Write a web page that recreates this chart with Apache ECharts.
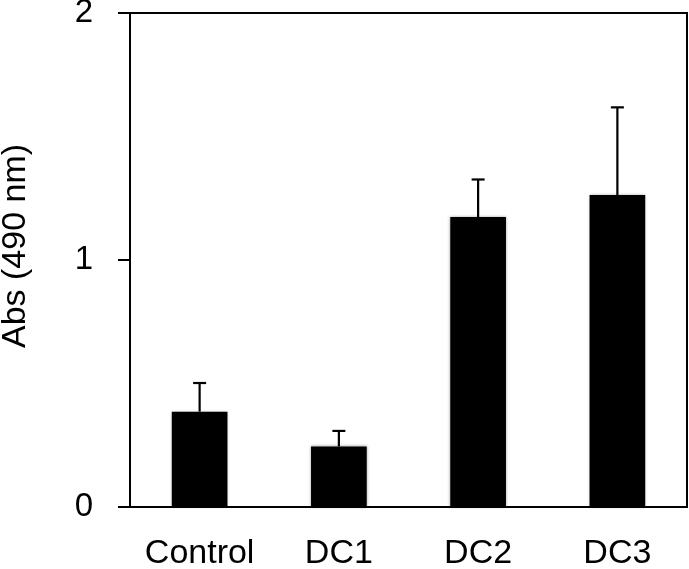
<!DOCTYPE html>
<html>
<head>
<meta charset="utf-8">
<script src="https://cdn.jsdelivr.net/npm/echarts@6/dist/echarts.min.js"></script>
<style>
html,body{margin:0;padding:0;background:#fff;}
#chart{width:689px;height:569px;}
</style>
</head>
<body>
<div id="chart"></div>
<script>
var categories = ['Control', 'DC1', 'DC2', 'DC3'];
var means = [0.386, 0.245, 1.174, 1.263];
var errors = [0.116, 0.063, 0.152, 0.355];
var yTicks = [0, 1, 2];

var chart = echarts.init(document.getElementById('chart'));
var font = '"Liberation Sans", Arial, sans-serif';
var errData = categories.map(function (c, i) { return [i, means[i], means[i] + errors[i]]; });

chart.setOption({
  animation: false,
  grid: { left: 130, right: 2, top: 13, bottom: 62, show: true, borderColor: '#000', borderWidth: 2,
    containLabel: false, outerBoundsMode: 'none' },
  xAxis: {
    type: 'category',
    data: categories,
    axisLine: { lineStyle: { color: '#000', width: 2 } },
    axisTick: { show: false },
    axisLabel: { color: '#000', fontSize: 34, fontFamily: font, margin: 30, interval: 0, hideOverlap: false }
  },
  yAxis: {
    type: 'value',
    min: 0, max: 2, interval: 1,
    name: 'Abs (490 nm)',
    nameLocation: 'middle',
    nameGap: 97,
    nameMoveOverlap: false,
    nameTextStyle: { color: '#000', fontSize: 34, fontFamily: font, padding: [0, 0, 0, 28] },
    axisLine: { show: true, lineStyle: { color: '#000', width: 2 } },
    axisTick: { show: true, inside: false, length: 12, lineStyle: { color: '#000', width: 2 } },
    axisLabel: { color: '#000', fontSize: 33, fontFamily: font, margin: 37,
      formatter: function (v) { return yTicks.indexOf(v) >= 0 ? String(v) : ''; } },
    splitLine: { show: false }
  },
  series: [
    {
      type: 'bar',
      data: means,
      barWidth: '40%',
      itemStyle: { color: '#000', shadowBlur: 3, shadowColor: 'rgba(0,0,0,0.35)' },
      z: 2
    },
    {
      type: 'custom',
      data: errData,
      z: 1,
      renderItem: function (params, api) {
        var x = api.value(0);
        var lo = api.coord([x, api.value(1)]);
        var hi = api.coord([x, api.value(2)]);
        var half = 6.5;
        return {
          type: 'group',
          children: [
            { type: 'line', shape: { x1: lo[0], y1: lo[1], x2: hi[0], y2: hi[1] }, style: { stroke: '#000', lineWidth: 2.2 } },
            { type: 'line', shape: { x1: hi[0] - half, y1: hi[1], x2: hi[0] + half, y2: hi[1] }, style: { stroke: '#000', lineWidth: 2.2 } }
          ]
        };
      }
    }
  ]
});
</script>
</body>
</html>
